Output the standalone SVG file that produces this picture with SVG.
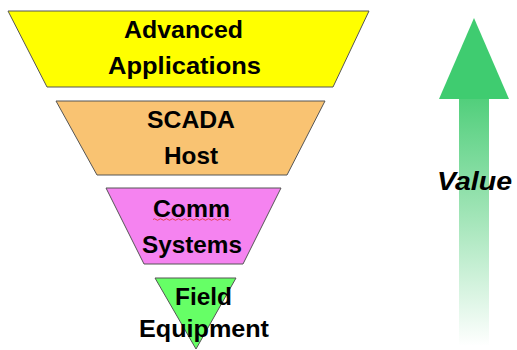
<svg xmlns="http://www.w3.org/2000/svg" width="517" height="350" viewBox="0 0 517 350">
<defs>
<style>
.lbl{font-family:"Liberation Sans",Arial,sans-serif;font-weight:bold;font-size:24px;fill:#000;text-anchor:middle}
.shape{stroke:#555;stroke-width:1}
</style>
<linearGradient id="shaftGrad" x1="0" y1="0" x2="0" y2="1">
<stop offset="0" stop-color="#52cf7c"/>
<stop offset="0.5" stop-color="#a6e6bb"/>
<stop offset="1" stop-color="#ffffff"/>
</linearGradient>
</defs>
<rect width="517" height="350" fill="#fff"/>
<g id="advanced-applications">
<polygon class="shape" points="8,11 369,11 333,87 47,87" fill="#ffff00"/>
<text class="lbl" x="183.5" y="38" textLength="119" lengthAdjust="spacingAndGlyphs">Advanced</text>
<text class="lbl" x="184.5" y="74" textLength="153" lengthAdjust="spacingAndGlyphs">Applications</text>
</g>
<g id="scada-host">
<polygon class="shape" points="56,101 325,101 287,175 97,175" fill="#f9c372"/>
<text class="lbl" x="191" y="128" textLength="88" lengthAdjust="spacingAndGlyphs">SCADA</text>
<text class="lbl" x="191" y="164" textLength="54" lengthAdjust="spacingAndGlyphs">Host</text>
</g>
<g id="comm-systems">
<polygon class="shape" points="106,188 281,188 243,264 144,264" fill="#f583f0"/>
<text class="lbl" x="191.5" y="217" textLength="77" lengthAdjust="spacingAndGlyphs">Comm</text>
<path d="M153,219.5 q1.5,-1.5 3,0 t3,0 t3,0 t3,0 t3,0 t3,0 t3,0 t3,0 t3,0 t3,0 t3,0 t3,0 t3,0 t3,0 t3,0 t3,0 t3,0 t3,0 t3,0 t3,0 t3,0 t3,0 t3,0 t3,0 t3,0 t3,0" fill="none" stroke="#e03030" stroke-width="0.8"/>
<text class="lbl" x="192" y="253" textLength="100" lengthAdjust="spacingAndGlyphs">Systems</text>
</g>
<g id="field-equipment">
<polygon class="shape" points="155,278 236,278 196,349" fill="#66ff66"/>
<text class="lbl" x="203.5" y="305" textLength="57" lengthAdjust="spacingAndGlyphs">Field</text>
<text class="lbl" x="204" y="337" textLength="130" lengthAdjust="spacingAndGlyphs">Equipment</text>
</g>
<g id="value-arrow">
<polygon points="474,18 509,99 439,99" fill="#3fcc70"/>
<rect x="459" y="99" width="30" height="247" fill="url(#shaftGrad)"/>
<text x="474.5" y="190" textLength="75" lengthAdjust="spacingAndGlyphs" style="font-family:'Liberation Sans',Arial,sans-serif;font-weight:bold;font-style:italic;font-size:25px;fill:#000;text-anchor:middle">Value</text>
</g>
</svg>
